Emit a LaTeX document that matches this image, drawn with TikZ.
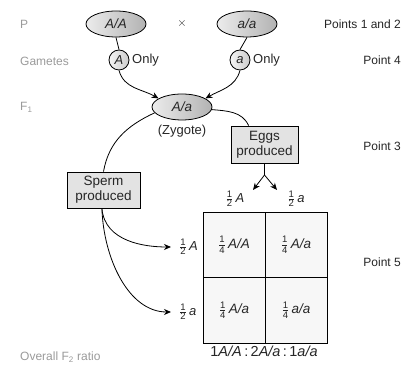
\documentclass[tikz,border=0pt]{standalone}
\usepackage{fontspec}
\setmainfont{Liberation Sans}
\usetikzlibrary{arrows.meta,shapes.geometric}
% small sans fraction such as 1/2 or 1/4
\newcommand\hfr[2]{\ensuremath{\textstyle\frac{\mbox{\fontsize{9.5}{10}\selectfont#1}}{\mbox{\fontsize{9.5}{10}\selectfont#2}}}}
\definecolor{labelgray}{HTML}{9A9A9A}
\definecolor{textdark}{HTML}{262626}
\begin{document}
\begin{tikzpicture}[x=1pt,y=1pt,
  every node/.style={text=textdark},
  sidelabel/.style={font=\fontsize{12}{14}\selectfont, text=labelgray, anchor=west, inner sep=0},
  pointlabel/.style={font=\fontsize{12}{14}\selectfont, anchor=east, inner sep=0},
  maintext/.style={font=\fontsize{13}{15}\selectfont},
  genotype/.style={ellipse, draw, line width=0.8pt, minimum width=60pt, minimum height=26pt,
    inner sep=0, left color=gray!15, right color=gray!60, font=\fontsize{13.5}{15}\selectfont\itshape},
  gamete/.style={circle, draw, line width=0.8pt, minimum size=20pt, inner sep=0,
    left color=gray!8, right color=gray!40, font=\fontsize{13}{15}\selectfont\itshape},
  prodbox/.style={rectangle, draw, line width=0.8pt, fill=gray!22, align=center,
    font=\fontsize{13.5}{15}\selectfont, inner sep=0},
  cell/.style={rectangle, draw, line width=0.8pt, fill=gray!6, inner sep=0, outer sep=0,
    minimum width=62pt, minimum height=65.5pt, font=\fontsize{13.5}{15}\selectfont},
  conn/.style={line width=0.8pt},
  arr/.style={line width=0.8pt, -{Stealth[length=7pt,width=6pt]}}
]
\useasboundingbox (0,0) rectangle (412,371);

% generation labels on the left
\node[sidelabel] (lP) at (20,347) {P};
\node[sidelabel] (lG) at (20,310) {Gametes};
\node[sidelabel] (lF) at (20,264) {F\textsubscript{1}};
\node[sidelabel] (lO) at (20,14) {Overall F\textsubscript{2} ratio};

% notes on the right
\node[pointlabel] (p12) at (401,347) {Points 1 and 2};
\node[pointlabel] (p4) at (401,311) {Point 4};
\node[pointlabel] (p3) at (401,225) {Point 3};
\node[pointlabel] (p5) at (401,109) {Point 5};

% parents
\node[genotype] (AA) at (116,347) {A/A};
\node[maintext] (cross) at (182,347) {$\times$};
\node[genotype] (aa) at (247,347) {a/a};

% gametes
\node[gamete] (gA) at (119,311) {A};
\node[maintext, anchor=west, inner sep=0] (onlyA) at (132,311) {Only};
\node[gamete] (ga) at (240,311) {a};
\node[maintext, anchor=west, inner sep=0] (onlya) at (253,311) {Only};

% F1 zygote
\node[genotype] (F1) at (182,264) {A/a};
\node[maintext] (zyg) at (182,240) {(Zygote)};

% sperm and eggs
\node[prodbox, minimum width=67pt, minimum height=37pt] (eggs) at (264.5,226.5) {Eggs\\produced};
\node[prodbox, minimum width=73pt, minimum height=36pt] (sperm) at (103.5,181) {Sperm\\produced};

% egg types above the square
\node[maintext] (eA) at (235,172) {\hfr12\,\textit{A}};
\node[maintext] (ea) at (296,172) {\hfr12\,\textit{a}};
\coordinate (fork) at (264.5,196);
\coordinate (tipA) at (253,181);
\coordinate (tipa) at (277,181);

% Punnett square
\node[cell] (c11) at (234,126.25) {\hfr14\,\textit{A/A}};
\node[cell] (c12) at (296,126.25) {\hfr14\,\textit{A/a}};
\node[cell] (c21) at (234,60.75) {\hfr14\,\textit{A/a}};
\node[cell] (c22) at (296,60.75) {\hfr14\,\textit{a/a}};

% sperm types left of the square
\node[maintext, anchor=west, inner sep=0] (sA) at (179,124) {\hfr12\,\textit{A}};
\node[maintext, anchor=west, inner sep=0] (sa) at (179,59) {\hfr12\,\textit{a}};

% overall ratio
\node[font=\fontsize{14.5}{16}\selectfont] (ratio) at (264,20)
  {1\textit{A/A}\,:\,2\textit{A/a}\,:\,1\textit{a/a}};

% connectors
\draw[conn] (AA.south) -- (gA.north);
\draw[conn] (aa.south) -- (ga.north);
\draw[arr] (gA.south) to[out=-75,in=150] (F1.160);
\draw[arr] (ga.south) to[out=-105,in=30] (F1.20);
\draw[conn] (F1.192) to[out=205,in=80] (sperm.north);
\draw[conn] (F1.-5) to[out=-5,in=115] (eggs.130);
\draw[conn] (eggs.south) -- (fork);
\draw[arr] (fork) -- (tipA);
\draw[arr] (fork) -- (tipa);
\draw[arr, shorten >=8pt] (sperm.265) to[out=-85,in=180] (sA.west);
\draw[arr, shorten >=8pt] (sperm.265) to[out=-88,in=180] (sa.west);
\end{tikzpicture}
\end{document}
